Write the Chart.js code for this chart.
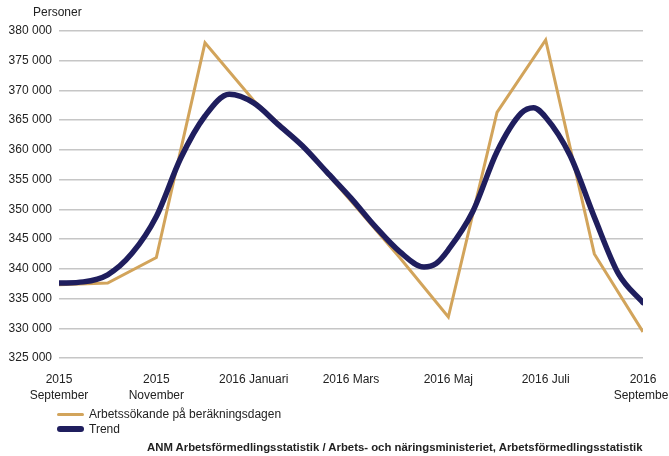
<!DOCTYPE html>
<html>
<head>
<meta charset="utf-8">
<script src="https://cdn.jsdelivr.net/npm/chart.js@4"></script>
<style>
  body { margin: 0; background: #fff; }
  #wrap { position: relative; width: 669px; height: 456px; font-family: "Liberation Sans", Arial, sans-serif; color: #222; }
  #chart { position: absolute; left: 0; top: 0; }
  .unit { position: absolute; left: 33px; top: 5px; font-size: 12px; }
  .leg { position: absolute; left: 0; font-size: 12px; line-height: 14px; }
  .leg span.sw { position: absolute; left: 57px; width: 27px; }
  .leg span.tx { position: absolute; left: 89px; white-space: nowrap; }
  .source { position: absolute; left: 147px; top: 441px; font-size: 11.35px; font-weight: bold; white-space: nowrap; }
</style>
</head>
<body>
<div id="wrap">
  <canvas id="chart" width="669" height="456"></canvas>
  <div class="unit">Personer</div>
  <div id="legend"></div>
  <div class="source">ANM Arbetsförmedlingsstatistik / Arbets- och näringsministeriet, Arbetsförmedlingsstatistik</div>
</div>
<script>
// x tick labels, one every second month (0 = 2015 September)
const tickLabels = [
  ['2015', 'September'],
  ['2015', 'November'],
  '2016 Januari',
  '2016 Mars',
  '2016 Maj',
  '2016 Juli',
  ['2016', 'September']
];

// monthly values, Sep 2015 .. Sep 2016
const months = [0, 1, 2, 3, 4, 5, 6, 7, 8, 9, 10, 11, 12];
const seekers = [337300, 337600, 341900, 378000, 368300, 360800, 351400, 341900, 331900, 366300, 378500, 342500, 329400];

// trend, read off roughly every half month
const trendMonths = [0, 0.5, 1, 1.5, 2, 2.5, 3, 3.5, 4, 4.5, 5, 5.5, 6, 6.5, 7, 7.5, 7.75, 8, 8.5, 9, 9.5, 9.75, 10, 10.5, 11, 11.5, 12];
const trendValues = [337600, 337800, 339000, 342600, 348800, 358600, 365700, 369350, 367900, 364300, 360700, 356300, 351900, 347100, 342900, 340300, 340900, 343200, 349600, 359700, 366200, 367100, 365500, 359100, 348700, 339100, 334300];

const yTicks = { min: 325000, max: 380000, step: 5000 };

const tan = '#d2a45b';
const navy = '#1f1e5e';
const font = "'Liberation Sans', Arial, sans-serif";

function fmt(v) {
  return String(v).replace(/\B(?=(\d{3})+(?!\d))/g, ' ');
}

const config = {
  type: 'line',
  data: {
    datasets: [
      {
        label: 'Arbetssökande på beräkningsdagen',
        data: months.map((m, i) => ({ x: m, y: seekers[i] })),
        borderColor: tan,
        backgroundColor: tan,
        borderWidth: 3,
        pointRadius: 0,
        tension: 0,
        order: 2
      },
      {
        label: 'Trend',
        data: trendMonths.map((m, i) => ({ x: m, y: trendValues[i] })),
        borderColor: navy,
        backgroundColor: navy,
        borderWidth: 5.5,
        pointRadius: 0,
        cubicInterpolationMode: 'monotone',
        borderCapStyle: 'round',
        order: 1
      }
    ]
  },
  options: {
    responsive: false,
    animation: false,
    layout: { padding: { top: 31, right: 26, left: 0, bottom: 0 } },
    plugins: {
      legend: { display: false },
      tooltip: { enabled: false }
    },
    scales: {
      x: {
        type: 'linear',
        min: 0,
        max: 12,
        grid: { display: false },
        border: { display: false },
        ticks: {
          stepSize: 2,
          maxRotation: 0,
          autoSkip: false,
          padding: 6,
          color: '#222',
          font: { family: font, size: 12, lineHeight: 1.33 },
          callback: v => tickLabels[v / 2]
        },
        afterFit: s => { s.height = 98; s.paddingLeft = 0; s.paddingRight = 0; }
      },
      y: {
        min: yTicks.min,
        max: yTicks.max,
        grid: { color: '#c6c6c6', lineWidth: 1.5, drawTicks: false },
        border: { display: false },
        ticks: {
          stepSize: yTicks.step,
          padding: 7,
          color: '#222',
          font: { family: font, size: 12 },
          callback: v => fmt(v)
        },
        afterFit: s => { s.width = 59; }
      }
    }
  }
};

const myChart = new Chart(document.getElementById('chart'), config);

// legend below the chart, two rows
const legend = document.getElementById('legend');
const rows = [
  { top: 407, h: 3 },
  { top: 422, h: 6 }
];
myChart.data.datasets.forEach((ds, i) => {
  const row = document.createElement('div');
  row.className = 'leg';
  row.style.top = rows[i].top + 'px';
  const sw = document.createElement('span');
  sw.className = 'sw';
  sw.style.height = rows[i].h + 'px';
  sw.style.top = (7 - rows[i].h / 2) + 'px';
  sw.style.background = ds.borderColor;
  sw.style.borderRadius = (rows[i].h / 2) + 'px';
  const tx = document.createElement('span');
  tx.className = 'tx';
  tx.textContent = ds.label;
  row.appendChild(sw);
  row.appendChild(tx);
  legend.appendChild(row);
});
</script>
</body>
</html>
